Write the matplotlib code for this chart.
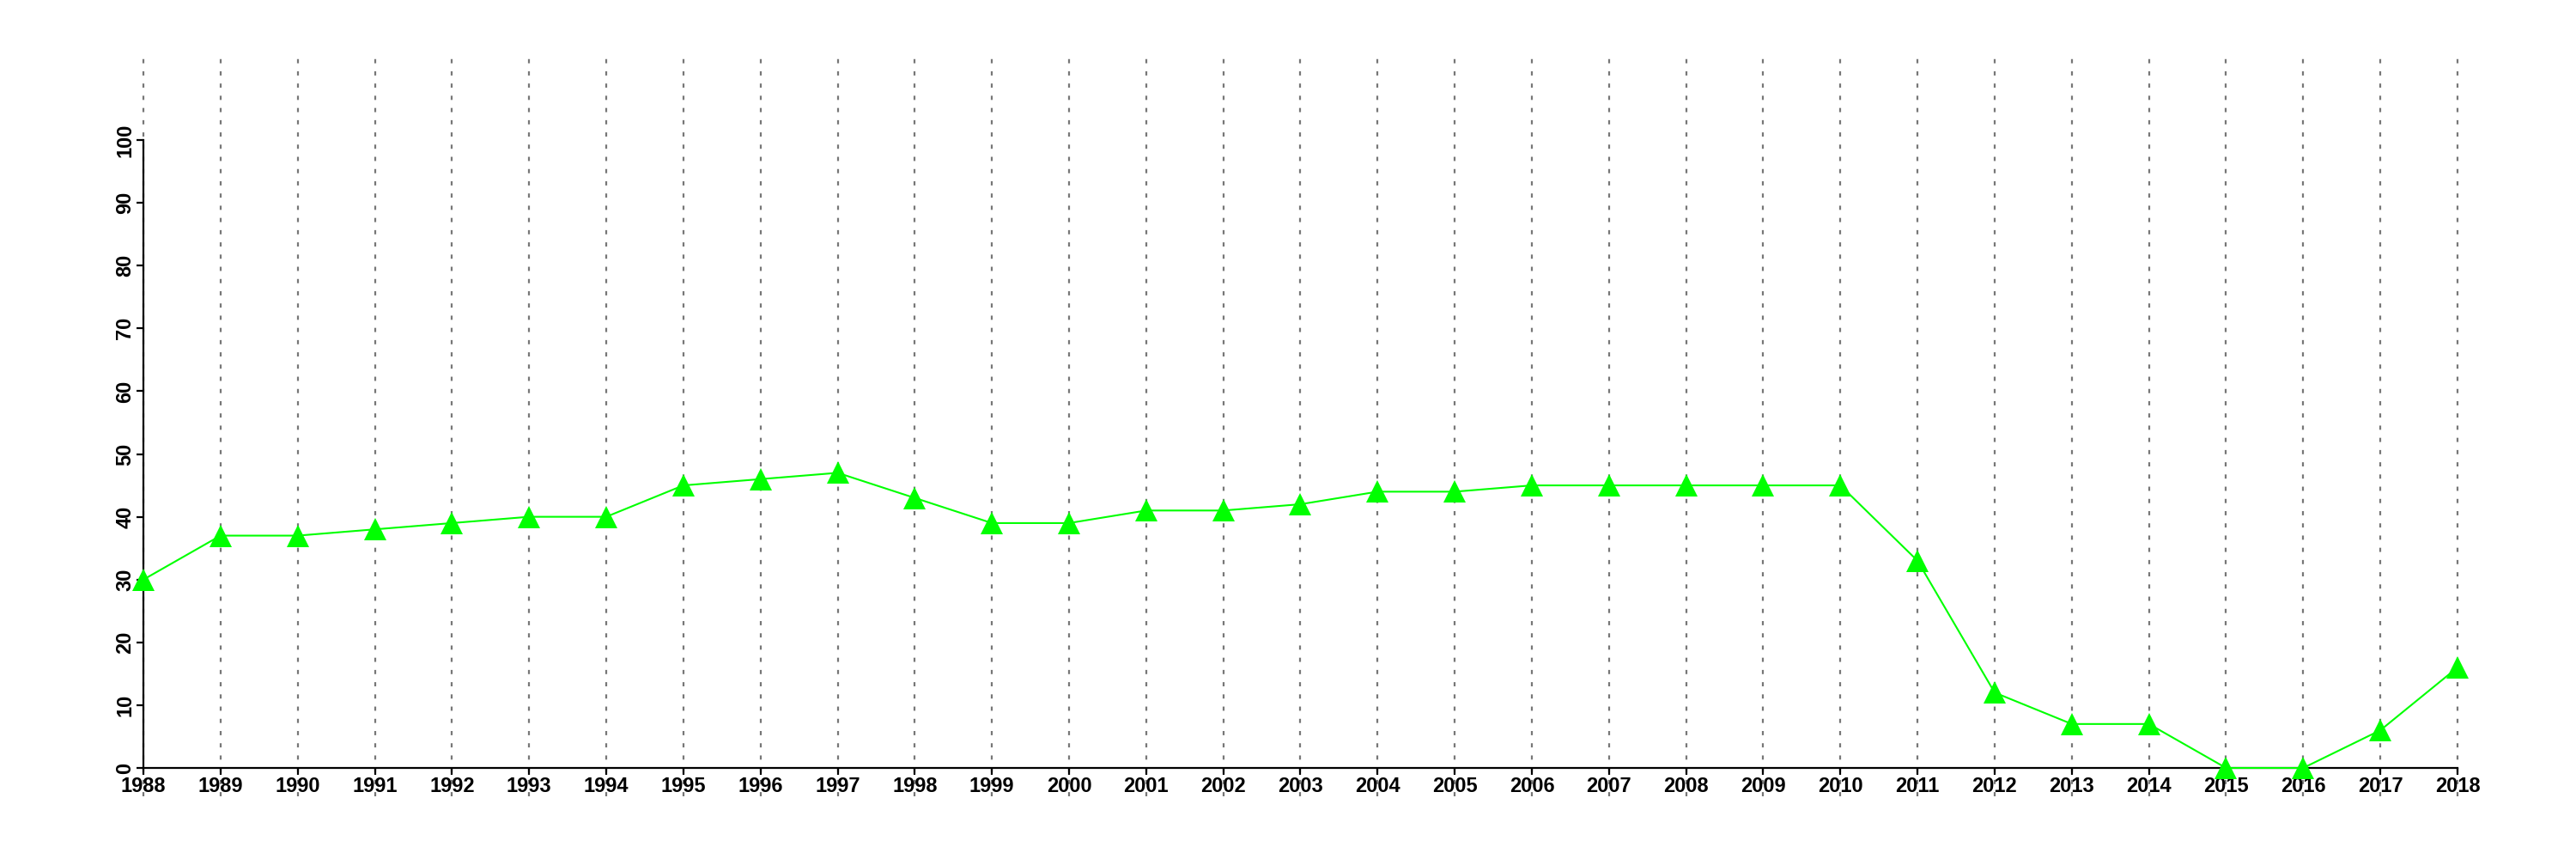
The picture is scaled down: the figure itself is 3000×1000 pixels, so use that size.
import numpy as np
import matplotlib.pyplot as plt

years = list(range(1988, 2019))
values = [30, 37, 37, 38, 39, 40, 40, 45, 46, 47, 43, 39, 39, 41, 41, 42,
          44, 44, 45, 45, 45, 45, 45, 33, 12, 7, 7, 0, 0, 6, 16]
y_ticks = list(range(0, 101, 10))

plt.rcParams['font.family'] = ['Liberation Sans', 'DejaVu Sans']
plt.rcParams['font.weight'] = 'bold'

fig = plt.figure(figsize=(30, 10), dpi=100)
ax = fig.add_axes([0.02573, 0.0731, 0.9582, 0.8662])
ax.set_xlim(1987, 2019)
ax.set_ylim(-4.5, 114)

# vertical dotted guides across the whole plot region
ax.vlines(years, -4.5, 114, colors='#777777', linewidth=1.6,
          linestyles=(0, (2.2, 4.2)), zorder=1)

ax.plot(years, values, color='#00ff00', lw=1.5, marker='^', ms=19,
        markeredgewidth=0, zorder=3, clip_on=False)

for s in ['top', 'right']:
    ax.spines[s].set_visible(False)
ax.spines['left'].set_bounds(0, 100)
ax.spines['left'].set_position(('data', 1988))
ax.spines['bottom'].set_bounds(1988, 2018)
ax.spines['bottom'].set_position(('data', 0))
for s in ['left', 'bottom']:
    ax.spines[s].set_linewidth(1.6)

ax.set_xticks(years)
ax.set_xticklabels([str(y) for y in years])
ax.set_yticks(y_ticks)
ax.set_yticklabels([str(v) for v in y_ticks], rotation=90, va='center')
ax.tick_params(axis='both', length=6, width=1.6, labelsize=17, pad=1)

fig.savefig('out.png', dpi=100)
